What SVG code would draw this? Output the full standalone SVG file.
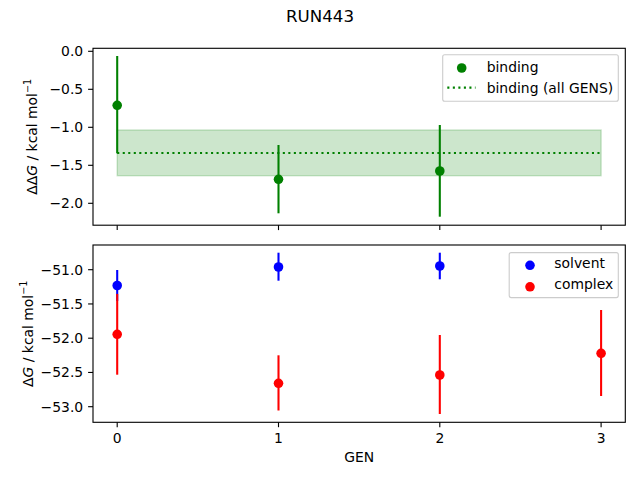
<svg xmlns="http://www.w3.org/2000/svg" width="640" height="480" viewBox="0 0 640 480">
<style>
text{font-family:"DejaVu Sans","Liberation Sans",sans-serif;font-size:13.9px;fill:#000}
.yt{text-anchor:end}
.xt{text-anchor:middle}
.spine{fill:none;stroke:#000;stroke-width:1.11}
.tick{stroke:#000;stroke-width:1.11}
.eg{stroke:#008000;stroke-width:2.08}
.eb{stroke:#0000ff;stroke-width:2.08}
.er{stroke:#ff0000;stroke-width:2.08}
.leg{fill:#fff;fill-opacity:0.8;stroke:#cccccc;stroke-width:1.11}
.dot{stroke:#008000;stroke-width:2.08;stroke-dasharray:2.08 3.44}
</style>
<rect width="640" height="480" fill="#fff"/>
<text x="320" y="22" text-anchor="middle" style="font-size:16.67px">RUN443</text>

<g id="top-axes">
  <rect x="117.2" y="130" width="483.9" height="45.7" fill="#008000" fill-opacity="0.2" stroke="#008000" stroke-opacity="0.2" stroke-width="1.4"/>
  <line class="dot" x1="117.2" y1="153" x2="601.1" y2="153"/>
  <g id="binding-points">
    <line class="eg" x1="117.2" y1="56" x2="117.2" y2="153.3"/>
    <line class="eg" x1="278.5" y1="145" x2="278.5" y2="213.3"/>
    <line class="eg" x1="439.8" y1="125" x2="439.8" y2="216.7"/>
    <circle cx="117.2" cy="105.3" r="4.8" fill="#008000"/>
    <circle cx="278.5" cy="179.3" r="4.8" fill="#008000"/>
    <circle cx="439.8" cy="171" r="4.8" fill="#008000"/>
  </g>
  <rect class="spine" x="93" y="48.3" width="532.3" height="176.9"/>
  <g id="top-ticks">
    <line class="tick" x1="88.1" y1="51.3" x2="93" y2="51.3"/>
    <line class="tick" x1="88.1" y1="89.3" x2="93" y2="89.3"/>
    <line class="tick" x1="88.1" y1="127.3" x2="93" y2="127.3"/>
    <line class="tick" x1="88.1" y1="165.3" x2="93" y2="165.3"/>
    <line class="tick" x1="88.1" y1="203.3" x2="93" y2="203.3"/>
    <line class="tick" x1="117.2" y1="225.2" x2="117.2" y2="230.1"/>
    <line class="tick" x1="278.5" y1="225.2" x2="278.5" y2="230.1"/>
    <line class="tick" x1="439.8" y1="225.2" x2="439.8" y2="230.1"/>
    <line class="tick" x1="601.1" y1="225.2" x2="601.1" y2="230.1"/>
    <text class="yt" x="83.2" y="56.3">0.0</text>
    <text class="yt" x="83.2" y="94.3">−0.5</text>
    <text class="yt" x="83.2" y="132.3">−1.0</text>
    <text class="yt" x="83.2" y="170.3">−1.5</text>
    <text class="yt" x="83.2" y="208.3">−2.0</text>
  </g>
  <text transform="translate(36.6,136.7) rotate(-90)" text-anchor="middle">ΔΔ<tspan font-style="italic">G</tspan> / kcal mol<tspan dy="-5.5" style="font-size:9.7px">−1</tspan></text>
  <g id="top-legend">
    <rect class="leg" x="442.7" y="54.8" width="175.6" height="46.4" rx="2"/>
    <circle cx="461.7" cy="68" r="4.8" fill="#008000"/>
    <text x="486.7" y="72.4">binding</text>
    <line class="dot" x1="447.3" y1="87.6" x2="475.5" y2="87.6"/>
    <text x="486.7" y="92.7">binding (all GENS)</text>
  </g>
</g>

<g id="bottom-axes">
  <g id="solvent-points">
    <line class="eb" x1="117.2" y1="270" x2="117.2" y2="301"/>
    <line class="eb" x1="278.5" y1="252.7" x2="278.5" y2="280.7"/>
    <line class="eb" x1="439.8" y1="252.7" x2="439.8" y2="279.3"/>
  </g>
  <g id="complex-points">
    <line class="er" x1="117.2" y1="293.9" x2="117.2" y2="374.7"/>
    <line class="er" x1="278.5" y1="355.3" x2="278.5" y2="410.5"/>
    <line class="er" x1="439.8" y1="335" x2="439.8" y2="414"/>
    <line class="er" x1="601.1" y1="310" x2="601.1" y2="396"/>
  </g>
  <circle cx="117.2" cy="285.5" r="4.8" fill="#0000ff"/>
  <circle cx="278.5" cy="267" r="4.8" fill="#0000ff"/>
  <circle cx="439.8" cy="266" r="4.8" fill="#0000ff"/>
  <circle cx="117.2" cy="334.3" r="4.8" fill="#ff0000"/>
  <circle cx="278.5" cy="383.3" r="4.8" fill="#ff0000"/>
  <circle cx="439.8" cy="375" r="4.8" fill="#ff0000"/>
  <circle cx="601.1" cy="353.3" r="4.8" fill="#ff0000"/>
  <rect class="spine" x="93" y="245" width="532.3" height="177.3"/>
  <g id="bottom-ticks">
    <line class="tick" x1="88.1" y1="269.7" x2="93" y2="269.7"/>
    <line class="tick" x1="88.1" y1="303.95" x2="93" y2="303.95"/>
    <line class="tick" x1="88.1" y1="338.2" x2="93" y2="338.2"/>
    <line class="tick" x1="88.1" y1="372.45" x2="93" y2="372.45"/>
    <line class="tick" x1="88.1" y1="406.7" x2="93" y2="406.7"/>
    <text class="yt" x="83.2" y="274.7">−51.0</text>
    <text class="yt" x="83.2" y="308.95">−51.5</text>
    <text class="yt" x="83.2" y="343.2">−52.0</text>
    <text class="yt" x="83.2" y="377.45">−52.5</text>
    <text class="yt" x="83.2" y="411.7">−53.0</text>
    <line class="tick" x1="117.2" y1="422.3" x2="117.2" y2="427.2"/>
    <line class="tick" x1="278.5" y1="422.3" x2="278.5" y2="427.2"/>
    <line class="tick" x1="439.8" y1="422.3" x2="439.8" y2="427.2"/>
    <line class="tick" x1="601.1" y1="422.3" x2="601.1" y2="427.2"/>
    <text class="xt" x="117.2" y="442.5">0</text>
    <text class="xt" x="278.5" y="442.5">1</text>
    <text class="xt" x="439.8" y="442.5">2</text>
    <text class="xt" x="601.1" y="442.5">3</text>
  </g>
  <text x="359.3" y="461.7" text-anchor="middle">GEN</text>
  <text transform="translate(32.6,333.7) rotate(-90)" text-anchor="middle">Δ<tspan font-style="italic">G</tspan> / kcal mol<tspan dy="-5.5" style="font-size:9.7px">−1</tspan></text>
  <g id="bottom-legend">
    <rect class="leg" x="509.2" y="252.6" width="109.1" height="45" rx="2"/>
    <circle cx="530" cy="265.3" r="4.8" fill="#0000ff"/>
    <text x="554.3" y="268.4">solvent</text>
    <circle cx="530" cy="286.8" r="4.8" fill="#ff0000"/>
    <text x="554.3" y="289.3">complex</text>
  </g>
</g>
</svg>
